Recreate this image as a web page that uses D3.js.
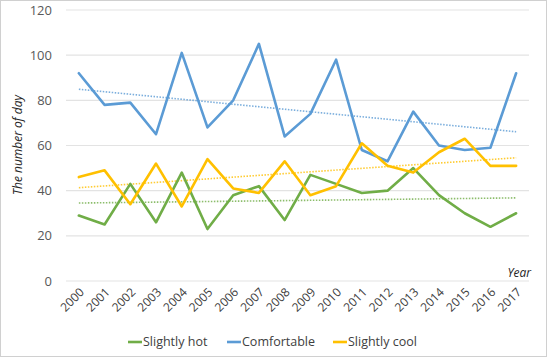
<!DOCTYPE html>
<html><head><meta charset="utf-8">
<script src="https://cdn.jsdelivr.net/npm/d3@7"></script>
<style>
html,body{margin:0;padding:0;background:#fff;}
svg{display:block;font-family:"Open Sans","Liberation Sans",sans-serif;}
</style></head>
<body><svg id="c" width="547" height="359"></svg>
<script>
const years = ["2000","2001","2002","2003","2004","2005","2006","2007","2008","2009","2010","2011","2012","2013","2014","2015","2016","2017"];
const slightlyHot = [29,25,43,26,48,23,38,42,27,47,43,39,40,50,38,30,24,30];
const comfortable = [92,78,79,65,101,68,80,105,64,74,98,58,53,75,60,58,59,92];
const slightlyCool = [46,49,34,52,33,54,41,39,53,38,42,61,51,48,57,63,51,51];
const yTicks = [0,20,40,60,80,100,120];
const seriesNames = ["Slightly hot","Comfortable","Slightly cool"];
const seriesColors = ["#70ad47","#5b9bd5","#ffc000"];

const svg = d3.select("#c");
svg.append("rect").attr("x",0.5).attr("y",0.5).attr("width",546).attr("height",356)
  .attr("fill","#fff").attr("stroke","#d0d0d0");

const x = d3.scaleBand().domain(years).range([66,529]);
const y = d3.scaleLinear().domain([0,120]).range([281,10]);

// gridlines
svg.append("g").selectAll("line").data(yTicks).join("line")
  .attr("x1",66).attr("x2",529).attr("y1",d=>y(d)).attr("y2",d=>y(d))
  .attr("stroke","#e3e3e3").attr("stroke-width",1.2);

// y axis labels
svg.append("g").selectAll("text").data(yTicks).join("text")
  .attr("x",52).attr("y",d=>y(d)).attr("dy","0.35em").attr("text-anchor","end")
  .attr("font-size",13).attr("fill","#595959").text(d=>d);

// x labels
const xAxis = d3.axisBottom(x).tickSize(0).tickPadding(0);
const gx = svg.append("g").attr("transform","translate(0,281)").call(xAxis);
gx.select(".domain").remove();
gx.selectAll("text").attr("font-size",12).attr("fill","#404040")
  .attr("font-family","'Open Sans','Liberation Sans',sans-serif")
  .attr("text-anchor","end").attr("dy",null).attr("y",0)
  .attr("transform","translate(6,12) rotate(-45)");

// axis titles
svg.append("text").attr("transform","translate(22,145) rotate(-90)")
  .attr("text-anchor","middle").attr("font-size",12).attr("font-style","italic")
  .attr("fill","#262626").text("The number of day");
svg.append("text").attr("x",531).attr("y",277).attr("text-anchor","end")
  .attr("font-size",12).attr("font-style","italic").attr("fill","#262626").text("Year");

const data = [slightlyHot, comfortable, slightlyCool];
const cx = (i)=>x(years[i])+x.bandwidth()/2;

// trendlines
data.forEach((vals,k)=>{
  const n = vals.length;
  const xs = vals.map((_,i)=>i);
  const mx = d3.mean(xs), my = d3.mean(vals);
  const b = d3.sum(xs.map((xi,i)=>(xi-mx)*(vals[i]-my)))/d3.sum(xs.map(xi=>(xi-mx)*(xi-mx)));
  const a = my - b*mx;
  svg.append("line").attr("x1",cx(0)).attr("x2",cx(n-1))
    .attr("y1",y(a)).attr("y2",y(a+b*(n-1)))
    .attr("stroke",seriesColors[k]).attr("stroke-width",1.6)
    .attr("stroke-dasharray","1.5,1.5").attr("opacity",0.8);
});

// lines (draw order: hot, comfortable, cool)
const line = d3.line().x((d,i)=>cx(i)).y(d=>y(d));
data.forEach((vals,k)=>{
  svg.append("path").datum(vals).attr("d",line).attr("fill","none")
    .attr("stroke",seriesColors[k]).attr("stroke-width",2.6)
    .attr("stroke-linejoin","round").attr("stroke-linecap","round");
});

// legend
const legX = [128,227,333];
seriesNames.forEach((name,k)=>{
  svg.append("line").attr("x1",legX[k]).attr("x2",legX[k]+14).attr("y1",342).attr("y2",342)
    .attr("stroke",seriesColors[k]).attr("stroke-width",2.6);
  svg.append("text").attr("x",legX[k]+15).attr("y",342).attr("dy","0.35em")
    .attr("font-size",12.5).attr("fill","#404040").text(name);
});
</script></body></html>
